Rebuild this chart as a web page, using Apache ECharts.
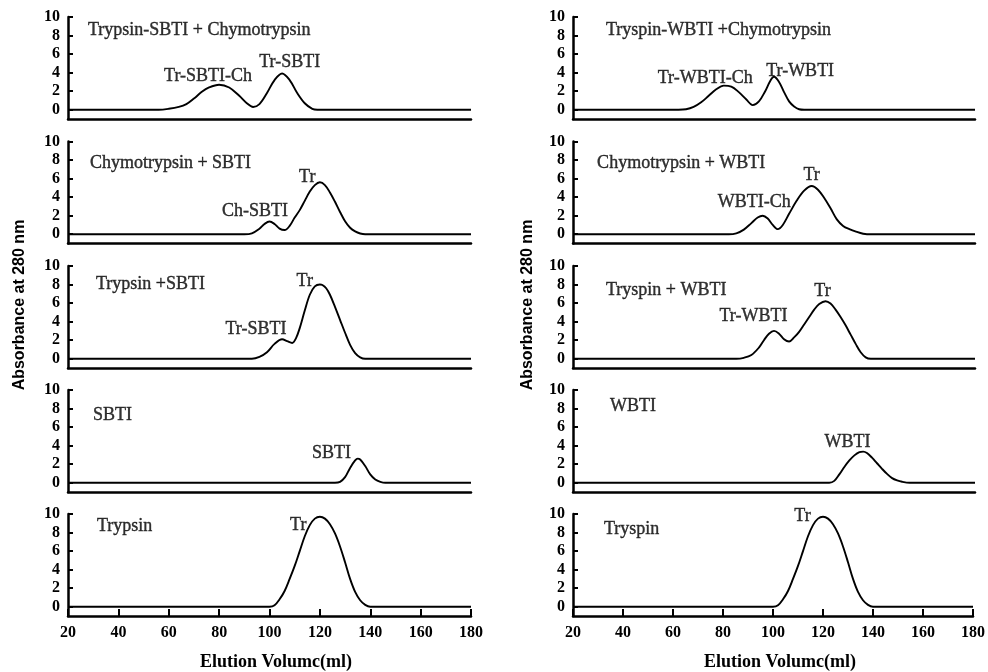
<!DOCTYPE html>
<html>
<head>
<meta charset="utf-8">
<script src="https://cdn.jsdelivr.net/npm/echarts@6/dist/echarts.min.js"></script>
<style>html,body{margin:0;padding:0;background:#fff}#c{width:988px;height:672px}</style>
</head>
<body>
<div id="c"></div>
<script>
// ---------------- DATA ----------------
const xTicks = [20, 40, 60, 80, 100, 120, 140, 160, 180];
const yTicks = [0, 2, 4, 6, 8, 10];

// Left column (SBTI), top to bottom: [elution volume (ml), absorbance]
const trSbtiPlusCh = [[20,0],[56,0],[60,0.1],[64,0.3],[67,0.6],[70,1.2],[73,1.9],[76,2.4],[80,2.7],[84,2.4],[88,1.5],[91,0.7],[93.5,0.3],[96,0.6],[99,1.8],[102,3.2],[105,3.9],[108,3.2],[111,1.8],[114,0.7],[117,0.1],[119,0],[180,0]];
const chPlusSbti = [[20,0],[90,0],[93,0.1],[96,0.6],[98,1.1],[100,1.37],[102,1.1],[104,0.6],[106,0.45],[108,0.9],[110,1.8],[112,2.6],[114,3.6],[116,4.6],[118,5.3],[120,5.6],[122,5.3],[124,4.5],[126,3.5],[128,2.4],[130,1.4],[132,0.7],[134,0.3],[136,0.08],[138,0],[180,0]];
const trPlusSbti = [[20,0],[93,0],[96,0.2],[99,0.7],[102,1.6],[105,2.1],[107,1.9],[109,1.7],[110.5,2.2],[112,3.3],[114,5.2],[116,6.9],[118,7.8],[120,8.0],[121,7.95],[122.5,7.6],[124,6.9],[126,5.6],[128,4.2],[130,2.8],[132,1.5],[134,0.6],[136,0.15],[138,0],[180,0]];
const sbtiOnly = [[20,0],[126,0],[128,0.1],[130,0.6],[132,1.6],[134,2.4],[135,2.6],[136,2.5],[138,1.8],[140,0.9],[142,0.35],[144,0.1],[146,0],[180,0]];
const trypsinL = [[20,0],[100,0],[102,0.15],[104,0.8],[106,1.7],[108,3.0],[110,4.4],[112,6.0],[114,7.6],[116,8.8],[118,9.5],[120,9.7],[122,9.5],[124,8.9],[126,7.9],[128,6.5],[130,4.8],[132,3.0],[134,1.6],[136,0.7],[138,0.2],[140,0],[180,0]];

// Right column (WBTI), top to bottom
const trWbtiPlusCh = [[20,0],[62,0],[65,0.05],[68,0.3],[71,0.8],[74,1.5],[77,2.2],[80,2.6],[83,2.5],[86,1.9],[89,1.1],[91.5,0.5],[94,0.9],[96.5,2.0],[98.5,3.1],[100,3.55],[102,3.0],[104,1.9],[106,0.9],[108,0.35],[110,0.05],[112,0],[180,0]];
const chPlusWbti = [[20,0],[82,0],[85,0.1],[88,0.5],[91,1.2],[93.5,1.8],[95.5,2.0],[97.5,1.7],[99.5,1.0],[101.5,0.55],[103.5,1.0],[106,2.2],[109,3.6],[112,4.7],[115,5.2],[117.5,4.8],[120,3.9],[122.5,2.8],[125,1.6],[127.5,0.9],[130,0.55],[133,0.25],[135.5,0.05],[137,0],[180,0]];
const trPlusWbti = [[20,0],[85,0],[88,0.1],[91,0.4],[94,1.2],[96,2.0],[98,2.7],[100,3.0],[102,2.7],[104,2.1],[106,1.85],[108,2.3],[110,2.9],[112,3.7],[114,4.5],[116,5.3],[118,5.9],[120.5,6.2],[122.5,5.95],[124.5,5.3],[126.5,4.5],[128.5,3.6],[130.5,2.6],[132.5,1.6],[134.5,0.7],[136.5,0.15],[138.5,0],[180,0]];
const wbtiOnly = [[20,0],[122,0],[124,0.2],[126,0.9],[128,1.7],[130,2.4],[132,2.95],[134,3.3],[135.5,3.35],[137,3.2],[139,2.7],[141,2.1],[143,1.5],[145,0.95],[147,0.5],[149,0.25],[151,0.1],[154,0],[180,0]];
const trypsinR = [[20,0],[100,0],[102,0.15],[104,0.8],[106,1.7],[108,3.0],[110,4.4],[112,6.0],[114,7.6],[116,8.8],[118,9.5],[120,9.7],[122,9.5],[124,8.9],[126,7.9],[128,6.5],[130,4.8],[132,3.0],[134,1.6],[136,0.7],[138,0.2],[140,0],[180,0]];

const panelTitles = [
  'Trypsin-SBTI + Chymotrypsin', 'Chymotrypsin + SBTI', 'Trypsin +SBTI', 'SBTI', 'Trypsin',
  'Tryspin-WBTI +Chymotrypsin', 'Chymotrypsin + WBTI', 'Tryspin + WBTI', 'WBTI', 'Tryspin'
];
const peakNames = [
  ['Tr-SBTI-Ch', 'Tr-SBTI'], ['Ch-SBTI', 'Tr'], ['Tr-SBTI', 'Tr'], ['SBTI'], ['Tr'],
  ['Tr-WBTI-Ch', 'Tr-WBTI'], ['WBTI-Ch', 'Tr'], ['Tr-WBTI', 'Tr'], ['WBTI'], ['Tr']
];
const curves = [trSbtiPlusCh, chPlusSbti, trPlusSbti, sbtiOnly, trypsinL,
                trWbtiPlusCh, chPlusWbti, trPlusWbti, wbtiOnly, trypsinR];
const yAxisTitle = 'Absorbance at 280 nm';
const xAxisTitle = 'Elution Volumc(ml)';

// ---------------- LAYOUT (annotation anchors in axis units) ----------------
const titleAnchor = [[27.9,8.6],[28.7,7.7],[31.1,8.0],[29.9,7.3],[31.5,8.7],
                     [33.1,8.6],[29.6,7.7],[33.1,7.4],[34.7,8.2],[32.4,8.3]];
const peakAnchor = [
  [[75.6,3.6],[108,5.1]], [[94.2,2.5],[115,6.15]], [[94.6,3.2],[114,8.3]], [[124.6,3.2]], [[111.4,8.8]],
  [[72.6,3.4],[110.4,4.2]], [[92.1,3.5],[115,6.4]], [[91.8,4.6],[119.3,7.3]], [[129.3,4.35]], [[111.8,9.8]]
];
const colLeft = [68, 573];
const colWidth = [403, 402];
const rowTop = [17, 141.5, 266, 390, 514];
const rowHeight = 102;

const SERIF = '"Liberation Serif", "Times New Roman", serif';
const SANS = '"Liberation Sans", Arial, sans-serif';

const grids = [], xAxes = [], yAxes = [], series = [];
for (let c = 0; c < 2; c++) {
  for (let r = 0; r < 5; r++) {
    const i = c * 5 + r;
    const bottom = r === 4;
    grids.push({ left: colLeft[c], width: colWidth[c], top: rowTop[r], height: rowHeight });
    xAxes.push({
      type: 'value', gridIndex: i, min: 20, max: 180, interval: 20,
      axisLine: { show: true, onZero: false, lineStyle: { color: '#000', width: 2.5 } },
      axisTick: { show: bottom, inside: true, length: 7, lineStyle: { color: '#000', width: 2 } },
      axisLabel: { show: bottom, color: '#000', fontFamily: SERIF, fontWeight: 'bold', fontSize: 16, margin: 9 },
      splitLine: { show: false }
    });
    yAxes.push({
      type: 'value', gridIndex: i, min: -1, max: 10,
      axisLine: { show: true, lineStyle: { color: '#000', width: 2.5 } },
      axisTick: { show: true, inside: true, length: 5, customValues: yTicks, lineStyle: { color: '#000', width: 2 } },
      axisLabel: { show: true, customValues: yTicks, color: '#000', fontFamily: SERIF, fontWeight: 'bold', fontSize: 16, margin: 8 },
      splitLine: { show: false }
    });
    series.push({
      type: 'line', xAxisIndex: i, yAxisIndex: i, data: curves[i],
      smooth: 0.35, showSymbol: false, symbol: 'none',
      lineStyle: { color: '#000', width: 1.9 }, silent: true, animation: false
    });
    const labels = [{ value: [titleAnchor[i][0], titleAnchor[i][1]], name: panelTitles[i], align: 'left' }];
    peakNames[i].forEach((n, k) => labels.push({ value: peakAnchor[i][k], name: n, align: 'center' }));
    series.push({
      type: 'scatter', xAxisIndex: i, yAxisIndex: i, symbolSize: 1, silent: true, animation: false,
      itemStyle: { color: 'rgba(0,0,0,0)' },
      data: labels.map(d => ({
        value: d.value, name: d.name,
        label: {
          show: true, position: 'inside', formatter: '{b}', color: '#000',
          fontFamily: SERIF, fontSize: 18, align: d.align, verticalAlign: 'middle',
          textBorderColor: '#000', textBorderWidth: 0.4
        }
      }))
    });
  }
}

const graphic = [];
[20, 528].forEach(x => graphic.push({
  type: 'text', x: x, y: 305, rotation: Math.PI / 2,
  style: { text: yAxisTitle, fill: '#000', font: 'bold 16px ' + SANS, textAlign: 'center', textVerticalAlign: 'middle' }
}));
[276, 780].forEach(x => graphic.push({
  type: 'text', x: x, y: 662,
  style: { text: xAxisTitle, fill: '#000', font: 'bold 18px ' + SERIF, textAlign: 'center', textVerticalAlign: 'middle' }
}));

const chart = echarts.init(document.getElementById('c'), null, { renderer: 'canvas' });
chart.setOption({
  animation: false,
  backgroundColor: '#fff',
  grid: grids, xAxis: xAxes, yAxis: yAxes, series: series, graphic: graphic
});
</script>
</body>
</html>
